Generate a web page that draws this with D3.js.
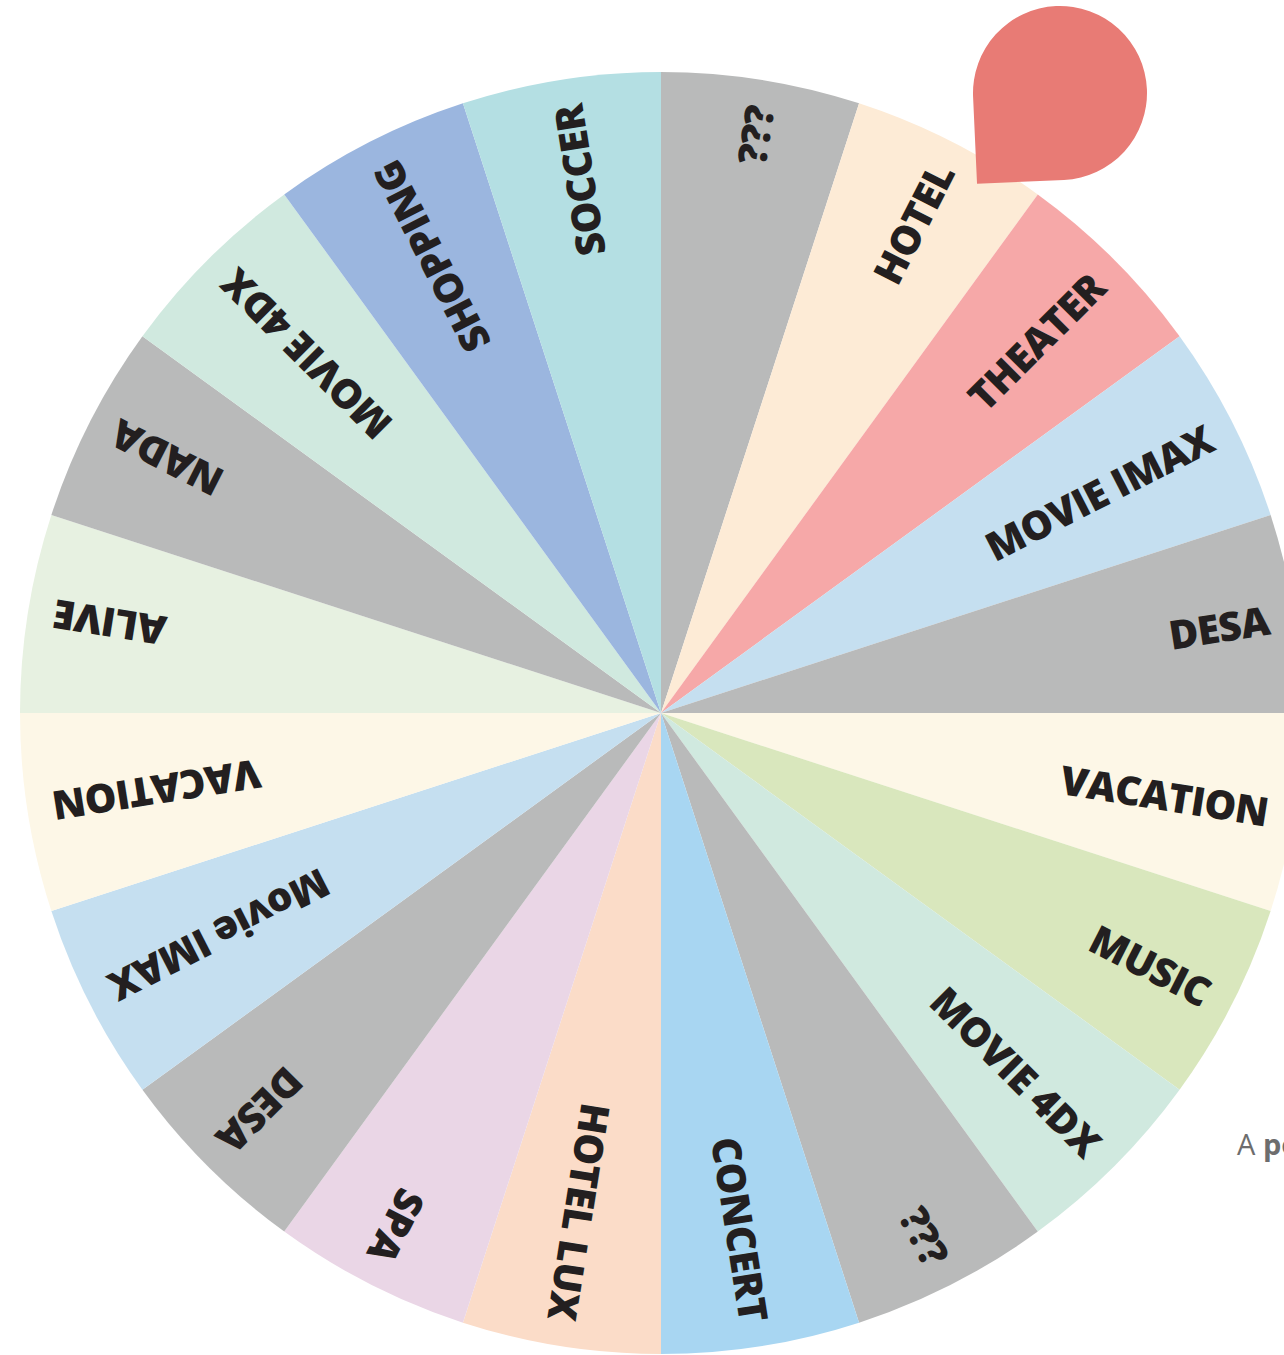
<!DOCTYPE html>
<meta charset="utf-8">
<script src="https://d3js.org/d3.v7.min.js"></script>
<style>
body { margin: 0; background-color: white; overflow: hidden; }
svg { display: block; }
</style>
<div id="wheel"></div>
<script>
// segments clockwise from 12 o'clock
var labels = ["???", "HOTEL", "THEATER", "MOVIE IMAX", "DESA", "VACATION", "MUSIC", "MOVIE 4DX",
  "???", "CONCERT", "HOTEL LUX", "SPA", "DESA", "Movie IMAX", "VACATION", "ALIVE", "NADA",
  "MOVIE 4DX", "SHOPPING", "SOCCER"];
var colors = ["#b9baba", "#fdebd6", "#f6a8a8", "#c5dff0", "#b9baba", "#fdf7e7", "#d9e7bd", "#d0e9df",
  "#b9baba", "#a8d6f2", "#fbdcc8", "#ead6e6", "#b9baba", "#c5dff0", "#fdf7e7", "#e7f1e1", "#b9baba",
  "#d0e9df", "#9bb6df", "#b4dfe3"];
var weights = labels.map(function() { return 1; });

var width = 1284, height = 1355;
var cx = 661, cy = 713, radius = 641;

var svg = d3.select("#wheel").append("svg")
    .attr("width", width)
    .attr("height", height);

var pie = d3.pie().sort(null).value(function(d) { return d; });
var arcs = pie(weights);
var arc = d3.arc().innerRadius(0).outerRadius(radius);

var g = svg.append("g").attr("transform", "translate(" + cx + "," + cy + ")");

g.selectAll("path.slice")
  .data(arcs)
  .enter()
  .append("path")
    .attr("class", "slice")
    .attr("d", arc)
    .attr("fill", function(d, i) { return colors[i]; });

// labels run along the radius, ending near the rim
g.selectAll("text.label")
  .data(arcs)
  .enter()
  .append("text")
    .attr("class", "label")
    .attr("transform", function(d) {
      var mid = (d.startAngle + d.endAngle) / 2 * 180 / Math.PI;
      return "rotate(" + (mid - 90) + ")";
    })
    .attr("x", radius - 26)
    .attr("dy", "0.44em")
    .attr("text-anchor", "end")
    .style("font-family", "'Open Sans', 'Noto Sans', sans-serif")
    .style("font-weight", 800)
    .style("font-size", "40px")
    .style("letter-spacing", "-0.6px")
    .style("fill", "#231f20")
    .text(function(d, i) { return labels[i]; });

// pointer
var pr = 87;
svg.append("path")
  .attr("transform", "translate(1060,93) rotate(-2.6)")
  .attr("d", "M" + (-pr) + ",0 A" + pr + "," + pr + " 0 1 1 0," + pr + " L" + (-pr) + "," + pr + " Z")
  .attr("fill", "#e87b75");

// caption (cut by the page edge, as in the original)
var cap = svg.append("text")
  .attr("x", 1237)
  .attr("y", 1155)
  .style("font-family", "'Open Sans', sans-serif")
  .style("font-size", "29px")
  .style("fill", "#6d6d6d");
cap.append("tspan").text("A ");
cap.append("tspan").style("font-weight", 700).text("powered wheel");
</script>
